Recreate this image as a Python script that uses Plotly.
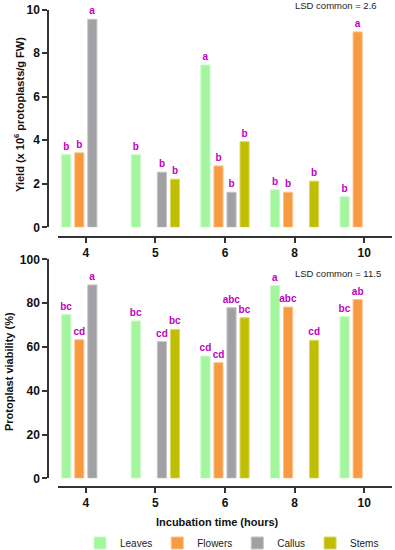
import plotly.graph_objects as go

# ---------------- data ----------------
times = ["4", "5", "6", "8", "10"]
tissues = ["Leaves", "Flowers", "Callus", "Stems"]
colors = ["#a3f59e", "#f89b40", "#a1a0a5", "#bfbe02"]
edge_colors = ["#c8fac4", "#fbc38c", "#c4c3c7", "#d9d866"]

yield_leaves = [3.33, 3.33, 7.45, 1.72, 1.40]
yield_flowers = [3.42, None, 2.82, 1.61, 8.97]
yield_callus = [9.55, 2.53, 1.61, None, None]
yield_stems = [None, 2.21, 3.93, 2.12, None]

yield_let_leaves = ["b", "b", "a", "b", "b"]
yield_let_flowers = ["b", "", "b", "b", "a"]
yield_let_callus = ["a", "b", "b", "", ""]
yield_let_stems = ["", "b", "b", "b", ""]

via_leaves = [74.7, 71.8, 55.8, 88.0, 73.8]
via_flowers = [63.3, None, 52.8, 78.2, 81.6]
via_callus = [88.3, 62.4, 77.9, None, None]
via_stems = [None, 68.0, 73.3, 63.0, None]

via_let_leaves = ["bc", "bc", "cd", "a", "bc"]
via_let_flowers = ["cd", "", "cd", "abc", "ab"]
via_let_callus = ["a", "cd", "abc", "", ""]
via_let_stems = ["", "bc", "bc", "cd", ""]

lsd_top = "LSD common = 2.6"
lsd_bottom = "LSD common = 11.5"

# ---------------- figure ----------------
W, H = 395, 550
def px(x):
    return x / W
def py(y):
    return 1 - y / H

LET_COLOR = "#c000c0"
FONT = "Liberation Sans, Arial, sans-serif"

fig = go.Figure()

top_vals = [yield_leaves, yield_flowers, yield_callus, yield_stems]
top_lets = [yield_let_leaves, yield_let_flowers, yield_let_callus, yield_let_stems]
bot_vals = [via_leaves, via_flowers, via_callus, via_stems]
bot_lets = [via_let_leaves, via_let_flowers, via_let_callus, via_let_stems]

for i, name in enumerate(tissues):
    fig.add_trace(go.Bar(
        x=times, y=top_vals[i], name=name, text=top_lets[i],
        textposition="outside", constraintext="none", cliponaxis=False,
        textfont=dict(color=LET_COLOR, size=10, family=FONT, weight="bold"),
        marker=dict(color=colors[i], line=dict(color=edge_colors[i], width=1)),
        xaxis="x", yaxis="y", legendgroup=name, showlegend=True,
        hoverinfo="skip",
    ))
for i, name in enumerate(tissues):
    fig.add_trace(go.Bar(
        x=times, y=bot_vals[i], name=name, text=bot_lets[i],
        textposition="outside", constraintext="none", cliponaxis=False,
        textfont=dict(color=LET_COLOR, size=10, family=FONT, weight="bold"),
        marker=dict(color=colors[i], line=dict(color=edge_colors[i], width=1)),
        xaxis="x2", yaxis="y2", legendgroup=name, showlegend=False,
        hoverinfo="skip",
    ))

axis_line = dict(showline=True, linecolor="#333333", linewidth=1.5,
                 ticks="outside", ticklen=5, tickwidth=1.5, tickcolor="#333333",
                 showgrid=False, zeroline=False,
                 tickfont=dict(size=12, family=FONT, color="#111111", weight="bold"),
                 automargin=False)

x_dom = [px(58), px(392)]
fig.update_layout(
    width=W, height=H,
    margin=dict(l=0, r=0, t=0, b=0, autoexpand=False),
    paper_bgcolor="white", plot_bgcolor="white",
    barmode="group", bargap=0.25, bargroupgap=0.3,
    font=dict(family=FONT, color="#111111"),
    xaxis=dict(type="category", domain=x_dom, range=[-0.4, 4.4],
               anchor="free", position=py(237), **axis_line),
    yaxis=dict(domain=[py(227.3), py(9.5)], range=[0, 10], tickvals=[0, 2, 4, 6, 8, 10],
               anchor="free", position=px(48), **axis_line),
    xaxis2=dict(type="category", domain=x_dom, range=[-0.4, 4.4],
                anchor="free", position=py(487), **axis_line),
    yaxis2=dict(domain=[py(478.3), py(259.3)], range=[0, 100], tickvals=[0, 20, 40, 60, 80, 100],
                anchor="free", position=px(48), **axis_line),
    legend=dict(orientation="h", x=px(80), xanchor="left", y=py(543), yanchor="middle",
                font=dict(size=10, family=FONT, color="#222222"),
                bgcolor="rgba(0,0,0,0)", itemclick=False, itemdoubleclick=False),
    showlegend=True,
)

title_font = dict(size=11, family=FONT, color="#111111", weight="bold")
ann = dict(xref="paper", yref="paper", showarrow=False, xanchor="center", yanchor="middle")
fig.add_annotation(text="Yield (x 10<sup>6</sup> protoplasts/g FW)", textangle=-90,
                   x=px(19), y=py(115), font=title_font, **ann)
fig.add_annotation(text="Protoplast viability (%)", textangle=-90,
                   x=px(9), y=py(372), font=title_font, **ann)
fig.add_annotation(text="Incubation time (hours)",
                   x=px(217.5), y=py(521.5), font=title_font, **ann)
lsd_font = dict(size=9.5, family=FONT, color="#222222")
fig.add_annotation(text=lsd_top, x=px(336), y=py(6), font=lsd_font, **ann)
fig.add_annotation(text=lsd_bottom, x=px(338), y=py(273), font=lsd_font, **ann)

fig.write_html("out.html", config={"displayModeBar": False},
               post_script="document.body.style.margin='0';")
